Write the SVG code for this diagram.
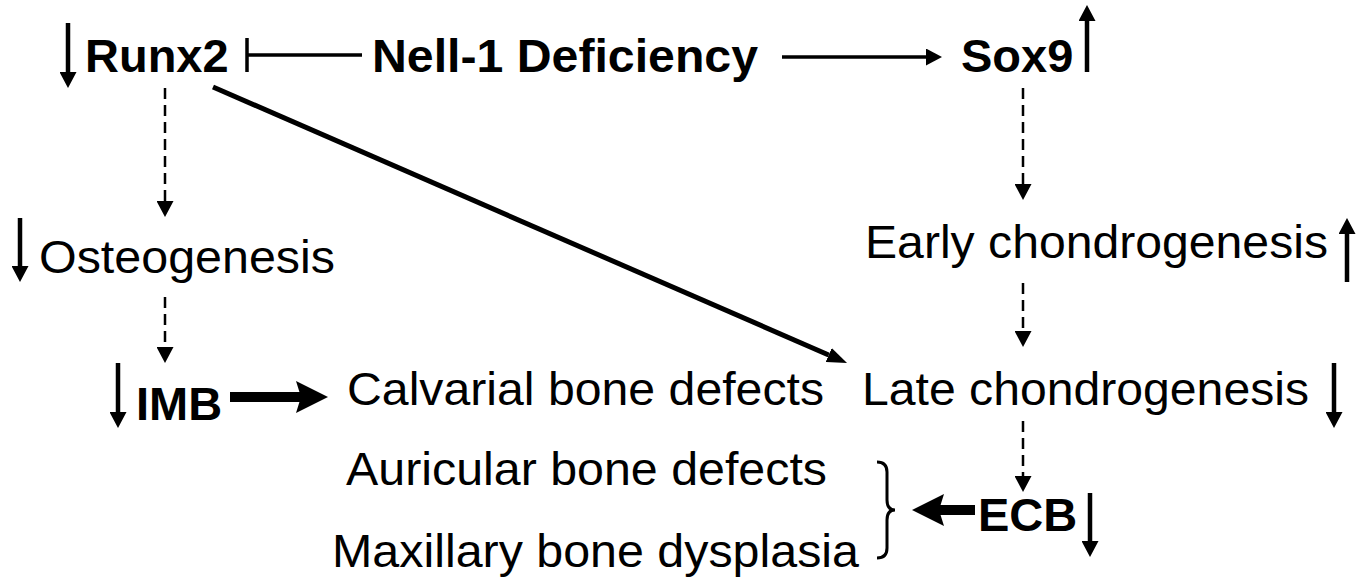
<svg xmlns="http://www.w3.org/2000/svg" width="1371" height="578" viewBox="0 0 1371 578">
<style>
text{font-family:"Liberation Sans",Arial,sans-serif;font-size:47px;fill:#000}
.b{font-weight:bold}
.ln{stroke:#000;fill:none}
.lv{stroke-width:4.5}
.dash{stroke-width:2.5;stroke-dasharray:11 6}
.thick{stroke-width:10}
</style>
<defs>
<marker id="ah" markerUnits="userSpaceOnUse" markerWidth="17" markerHeight="17" refX="0" refY="8.5" orient="auto"><path d="M0,0 L16,8.5 L0,17 z" fill="#000"/></marker>
<marker id="sh" markerUnits="userSpaceOnUse" markerWidth="20" markerHeight="15" refX="0" refY="7.5" orient="auto"><path d="M0,0 L20,7.5 L0,15 z" fill="#000"/></marker>
<marker id="bh" markerUnits="userSpaceOnUse" markerWidth="32" markerHeight="32" refX="5" refY="16" orient="auto"><path d="M0,0 L32,16 L0,32 L5,16 z" fill="#000"/></marker>
</defs>
<g id="nodes">
<g id="runx2"><text class="b" x="85" y="72">Runx2</text><line class="ln lv" x1="68" y1="23" x2="68" y2="72" marker-end="url(#ah)"/></g>
<g id="nell1"><text class="b" x="372" y="72" textLength="386" lengthAdjust="spacingAndGlyphs">Nell-1 Deficiency</text></g>
<g id="sox9"><text class="b" x="961" y="72">Sox9</text><line class="ln lv" x1="1087" y1="72" x2="1087" y2="21" marker-end="url(#ah)"/></g>
<g id="osteo"><text x="39" y="273" textLength="296" lengthAdjust="spacingAndGlyphs">Osteogenesis</text><line class="ln lv" x1="20" y1="218" x2="20" y2="266" marker-end="url(#ah)"/></g>
<g id="early"><text x="865" y="258" textLength="463" lengthAdjust="spacingAndGlyphs">Early chondrogenesis</text><line class="ln lv" x1="1347" y1="282" x2="1347" y2="234" marker-end="url(#ah)"/></g>
<g id="imb"><text class="b" x="136" y="420">IMB</text><line class="ln lv" x1="118" y1="363" x2="118" y2="412" marker-end="url(#ah)"/></g>
<g id="calvarial"><text x="347" y="405" textLength="477" lengthAdjust="spacingAndGlyphs">Calvarial bone defects</text></g>
<g id="late"><text x="862" y="405" textLength="447" lengthAdjust="spacingAndGlyphs">Late chondrogenesis</text><line class="ln lv" x1="1334" y1="363" x2="1334" y2="412" marker-end="url(#ah)"/></g>
<g id="auricular"><text x="346" y="485" textLength="481" lengthAdjust="spacingAndGlyphs">Auricular bone defects</text></g>
<g id="maxillary"><text x="332" y="567" textLength="527" lengthAdjust="spacingAndGlyphs">Maxillary bone dysplasia</text></g>
<g id="ecb"><text class="b" x="978" y="531">ECB</text><line class="ln lv" x1="1090" y1="493" x2="1090" y2="541" marker-end="url(#ah)"/></g>
<g id="brace"><path class="ln" stroke-width="3" d="M877,462 Q887,462 887,472 L887,500 Q887,510 895,510 Q887,510 887,520 L887,548 Q887,558 877,558"/></g>
</g>
<g id="connectors">
<path class="ln" stroke-width="3.5" d="M247,38 L247,72 M247,55 L362,55"/>
<line class="ln" stroke-width="3.5" x1="782" y1="57" x2="926" y2="57" marker-end="url(#ah)"/>
<line class="ln dash" x1="165" y1="88" x2="165" y2="201" marker-end="url(#ah)"/>
<line class="ln dash" x1="165" y1="297" x2="165" y2="347" marker-end="url(#ah)"/>
<line class="ln dash" x1="1023" y1="88" x2="1023" y2="184" marker-end="url(#ah)"/>
<line class="ln dash" x1="1023" y1="283" x2="1023" y2="331" marker-end="url(#ah)"/>
<line class="ln dash" x1="1023" y1="421" x2="1023" y2="476" marker-end="url(#ah)"/>
<line class="ln" stroke-width="5" x1="213" y1="87" x2="828.7" y2="355" marker-end="url(#sh)"/>
<line class="ln thick" x1="230" y1="397" x2="301" y2="397" marker-end="url(#bh)"/>
<line class="ln thick" x1="975" y1="510" x2="939" y2="510" marker-end="url(#bh)"/>
</g>
</svg>
